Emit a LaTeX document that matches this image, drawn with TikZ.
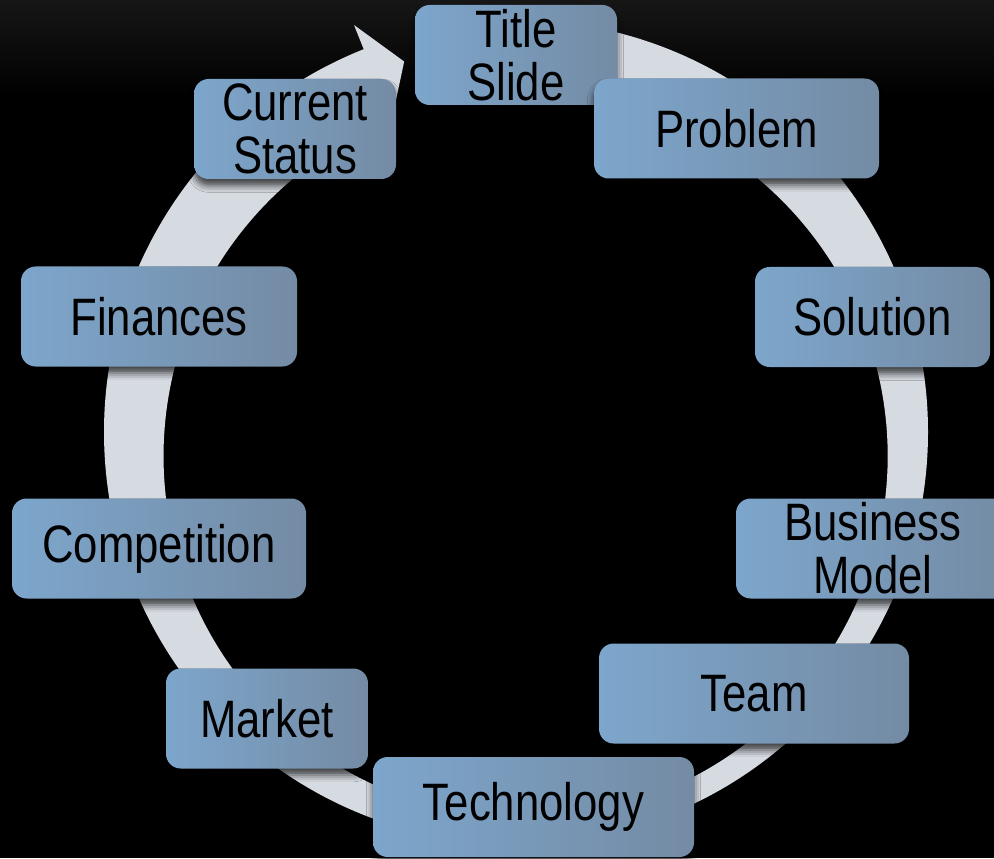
\documentclass[tikz,border=0pt]{standalone}
\usepackage{fontspec}
\setmainfont{Liberation Sans}[FakeStretch=0.83]
\usetikzlibrary{shadows.blur}
\definecolor{ringgray}{RGB}{214,219,226}
\definecolor{boxlight}{RGB}{125,166,204}
\definecolor{boxdark}{RGB}{116,139,164}
\definecolor{bgtop}{RGB}{22,22,22}
\tikzset{
  stage/.style={rounded corners=11pt, minimum height=75pt, inner sep=0pt, align=center,
    left color=boxlight, right color=boxdark, font=\fontsize{39.5}{40}\selectfont,
    blur shadow={shadow xshift=0pt, shadow yshift=-5pt, shadow opacity=70, shadow blur radius=5pt}}
}
\begin{document}
\begin{tikzpicture}[x=0.75pt,y=0.75pt]
  \useasboundingbox (0,0) rectangle (994,858);
  \clip (0,0) rectangle (994,858);
  \fill[black] (0,0) rectangle (994,858);
  \shade[top color=bgtop, bottom color=black] (0,760) rectangle (994,858);
  \begin{scope}[shift={(516,426)}]
    \fill[ringgray] (90:412) arc[start angle=90, end angle=-248.3, radius=309pt]
      -- (-248.3:438) -- (-253.2:387) -- (-248.3:336)
      arc[start angle=-248.3, end angle=90, radius=271.5pt] -- cycle;
  \end{scope}
  \path
    (516,803) node[stage, minimum width=151.5pt] (title) {Title\\Slide}
    (736.5,729.5) node[stage, minimum width=213.75pt] (problem) {Problem}
    (872.5,541) node[stage, minimum width=176.25pt] (solution) {Solution}
    (873,309.5) node[stage, minimum width=205.5pt] (business) {Business\\Model}
    (754,164.5) node[stage, minimum width=232.5pt] (team) {Team}
    (533.5,51) node[stage, minimum width=240.75pt] (technology) {Technology}
    (267,139.5) node[stage, minimum width=151.5pt] (market) {Market}
    (159,309.5) node[stage, minimum width=220.5pt] (competition) {Competition}
    (159,541.5) node[stage, minimum width=207pt] (finances) {Finances}
    (295,729) node[stage, minimum width=151.5pt] (current) {Current\\Status};
\end{tikzpicture}
\end{document}
